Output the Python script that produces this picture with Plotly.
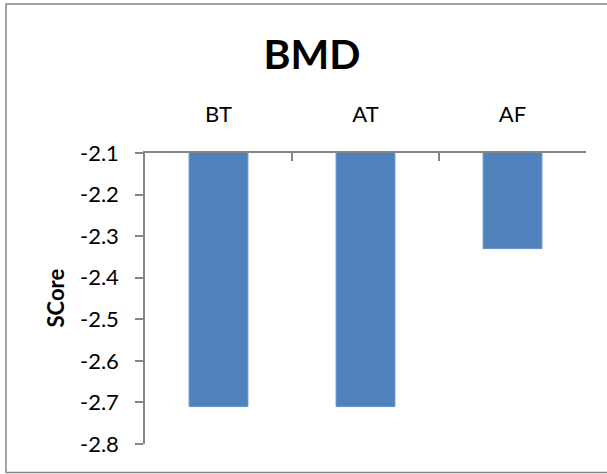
import plotly.graph_objects as go

# BMD score per group
categories = ["BT", "AT", "AF"]
scores = [-2.71, -2.71, -2.33]
y_ticks = [-2.1, -2.2, -2.3, -2.4, -2.5, -2.6, -2.7, -2.8]

W, H = 607, 474
L, R, T, B = 145, 21, 153, 30
font_family = "Lato, 'Open Sans', sans-serif"
axis_gray = "#868686"

fig = go.Figure(
    go.Bar(
        x=categories,
        y=scores,
        marker=dict(color="#4F81BD", line=dict(color="#6592C8", width=1)),
        width=0.4,
    )
)

fig.update_layout(
    width=W,
    height=H,
    margin=dict(l=L, r=R, t=T, b=B, pad=0),
    paper_bgcolor="white",
    plot_bgcolor="white",
    showlegend=False,
    font=dict(family=font_family, color="black", size=22),
    title=dict(
        text="<b>BMD</b>",
        font=dict(family=font_family, size=41, color="black"),
        x=312 / W,
        xref="container",
        xanchor="center",
        y=1 - 55 / H,
        yref="container",
        yanchor="middle",
    ),
)

fig.update_xaxes(
    side="top",
    type="category",
    showline=True,
    linecolor=axis_gray,
    linewidth=1.5,
    ticks="inside",
    tickson="boundaries",
    ticklen=8,
    tickcolor=axis_gray,
    tickwidth=1.5,
    showgrid=False,
    ticklabelstandoff=20,
    tickfont=dict(size=22),
)

fig.update_yaxes(
    range=[-2.8, -2.1],
    tickvals=y_ticks,
    ticktext=[f"{v:.1f}" for v in y_ticks],
    showline=True,
    linecolor=axis_gray,
    linewidth=1.5,
    ticks="outside",
    ticklen=8,
    tickcolor=axis_gray,
    tickwidth=1.5,
    showgrid=False,
    zeroline=False,
    ticklabelstandoff=12,
    tickfont=dict(size=22),
)

# Y axis caption
fig.add_annotation(
    text="<b>SCore</b>",
    textangle=-90,
    xref="paper",
    yref="paper",
    x=(55 - L) / (W - L - R),
    y=0.5,
    xanchor="center",
    yanchor="middle",
    showarrow=False,
    font=dict(family=font_family, size=22, color="black"),
)

# Chart-area frame
pw, ph = W - L - R, H - T - B
fig.add_shape(
    type="rect",
    xref="paper",
    yref="paper",
    x0=(6 - L) / pw,
    x1=(W + 5 - L) / pw,
    y0=(H - B - 472.5) / ph,
    y1=(H - B - 4) / ph,
    line=dict(color=axis_gray, width=1.5),
    fillcolor="rgba(0,0,0,0)",
    layer="below",
)

fig.write_html("out.html")
